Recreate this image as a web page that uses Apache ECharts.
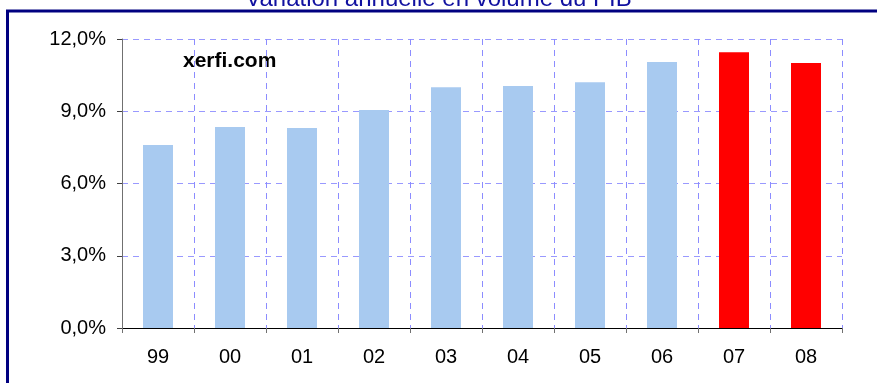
<!DOCTYPE html>
<html>
<head>
<meta charset="utf-8">
<script src="https://cdn.jsdelivr.net/npm/echarts@6/dist/echarts.min.js"></script>
<style>
  html, body { margin: 0; padding: 0; background: #fff; }
  #chart { width: 877px; height: 383px; }
</style>
</head>
<body>
<div id="chart"></div>
<script>
// années (2 chiffres)
const categories = ['99', '00', '01', '02', '03', '04', '05', '06', '07', '08'];
// variation annuelle en volume du PIB, en %
const values = [7.6, 8.35, 8.3, 9.05, 10.0, 10.05, 10.2, 11.05, 11.45, 11.0];
// les deux dernières années en rouge (prévisions)
const forecast = [false, false, false, false, false, false, false, false, true, true];
const yTicks = [0, 3, 6, 9, 12];

const chart = echarts.init(document.getElementById('chart'));

const gridColor = '#9999ff';

const option = {
  animation: false,
  title: {
    text: 'Variation annuelle en volume du PIB',
    left: 'center',
    top: -18,
    textStyle: {
      color: '#1010a0',
      fontFamily: 'Liberation Sans, Arial',
      fontWeight: 'normal',
      fontSize: 24
    }
  },
  graphic: [
    // cadre (bord gauche + haut)
    { type: 'line', shape: { x1: 7.5, y1: 10, x2: 7.5, y2: 383 }, style: { stroke: '#000080', lineWidth: 3 } },
    { type: 'line', shape: { x1: 6, y1: 11, x2: 877, y2: 11 }, style: { stroke: '#000080', lineWidth: 3 } },
    {
      type: 'text', left: 183, top: 51,
      style: { text: 'xerfi.com', fill: '#000', font: 'bold 21px "Liberation Sans", Arial' }
    }
  ],
  grid: { left: 122, right: 35, top: 39, bottom: 55 },
  xAxis: {
    type: 'category',
    data: categories,
    axisLine: { lineStyle: { color: '#000', width: 1 } },
    axisTick: { show: true, length: 5, lineStyle: { color: '#707070' } },
    axisLabel: { color: '#000', fontSize: 20, fontFamily: 'Liberation Sans, Arial', margin: 19 },
    splitLine: { show: true, lineStyle: { color: '#8c8cff', type: [6, 5], width: 1 } }
  },
  yAxis: {
    type: 'value',
    min: yTicks[0],
    max: yTicks[yTicks.length - 1],
    interval: 3,
    axisLine: { show: true, lineStyle: { color: '#707070' } },
    axisTick: { show: true, length: 5, lineStyle: { color: '#404040' } },
    axisLabel: {
      color: '#000', fontSize: 20, fontFamily: 'Liberation Sans, Arial', margin: 16,
      formatter: v => v.toFixed(1).replace('.', ',') + '%'
    },
    splitLine: { show: true, lineStyle: { color: gridColor, type: [6, 5], width: 1 } }
  },
  series: [
    {
      type: 'bar',
      barWidth: 30,
      data: values.map((v, i) => ({
        value: v,
        itemStyle: { color: forecast[i] ? '#ff0000' : '#a8caf0' }
      }))
    }
  ]
};

chart.setOption(option);
</script>
</body>
</html>
